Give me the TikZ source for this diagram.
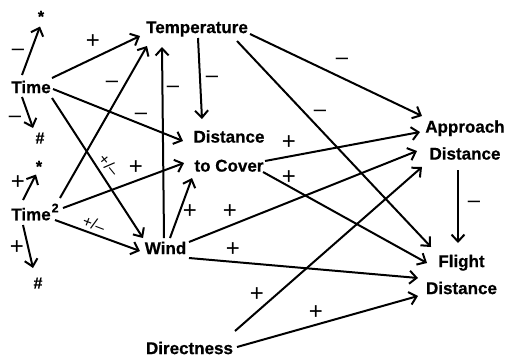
\documentclass[tikz,border=0pt]{standalone}
\usepackage{fontspec}
\setmainfont{Liberation Sans}[BoldFeatures={FakeBold=0.6}]
\usetikzlibrary{arrows.meta}
\begin{document}
\begin{tikzpicture}[x=1pt,y=-1pt,
  box/.style={font=\bfseries\fontsize{17}{27}\selectfont, inner sep=0pt, align=center},
  sym/.style={font=\bfseries\fontsize{16}{16}\selectfont, inner sep=0pt},
  lab/.style={font=\fontsize{24}{24}\selectfont, inner sep=0pt},
  mn/.style={font=\fontsize{22}{22}\selectfont, inner sep=0pt, yshift=-2.6pt},
  rlab/.style={font=\fontsize{16}{16}\selectfont, inner sep=0pt},
  arr/.style={line width=2pt, -{Straight Barb[length=7pt,width=13pt]}}
]
\fill[white] (0,0) rectangle (506,360);
\useasboundingbox (0,0) rectangle (506,360);

% nodes
\node[box] (time) at (31,87) {Time};
\node[box] (time2) at (31,212) {Time\rlap{\kern1pt\raisebox{8pt}{\fontsize{12.5}{12}\selectfont 2}}};
\node[sym, yshift=-3.5pt] (star1) at (41,13) {*};
\node[sym] (hash1) at (40,138) {\#};
\node[sym, yshift=-3.5pt] (star2) at (39,163) {*};
\node[sym] (hash2) at (38,283) {\#};
\node[box] (temp) at (197,29) {Temperature};
\node[box] (dist) at (229,151) {Distance\\[2pt]to Cover};
\node[box] (wind) at (165.5,248) {Wind};
\node[box] (appr) at (465,140) {Approach\\Distance};
\node[box] (flight) at (461.5,274.5) {Flight\\Distance};
\node[box] (dirn) at (189.5,348) {Directness};

% connectors
\draw[arr] ([shift={(-9,-12)}]time.center) -- ([shift={(-1,10)}]star1.center);
\draw[arr] ([shift={(-9,10)}]time.center) -- ([shift={(-7,-10)}]hash1.center);
\draw[arr] ([shift={(21,-9)}]time.center) -- ([shift={(-57,7)}]temp.center);
\draw[arr] ([shift={(22,2)}]time.center) -- ([shift={(-46,-10)}]dist.center);
\draw[arr] ([shift={(21,11)}]time.center) -- ([shift={(-22.5,-10)}]wind.center);
\draw[arr] ([shift={(-8,-12)}]time2.center) -- ([shift={(-3,8)}]star2.center);
\draw[arr] ([shift={(-8,13)}]time2.center) -- ([shift={(-5,-15)}]hash2.center);
\draw[arr] ([shift={(29,-14)}]time2.center) -- ([shift={(-50,17)}]temp.center);
\draw[arr] ([shift={(32,-4)}]time2.center) -- ([shift={(-45,12)}]dist.center);
\draw[arr] ([shift={(24,8)}]time2.center) -- ([shift={(-25.5,3)}]wind.center);
\draw[arr] ([shift={(-1.5,-10)}]wind.center) -- ([shift={(-35,18)}]temp.center);
\draw[arr] ([shift={(4.5,-10)}]wind.center) -- ([shift={(-37,27)}]dist.center);
\draw[arr] ([shift={(23.5,-6)}]wind.center) -- ([shift={(-48,11)}]appr.center);
\draw[arr] ([shift={(23.5,10)}]wind.center) -- ([shift={(-43.5,3.5)}]flight.center);
\draw[arr] ([shift={(53,5)}]temp.center) -- ([shift={(-43,-24)}]appr.center);
\draw[arr] ([shift={(40,12)}]temp.center) -- ([shift={(-30.5,-27.5)}]flight.center);
\draw[arr] ([shift={(1,9)}]temp.center) -- ([shift={(-27,-32)}]dist.center);
\draw[arr] ([shift={(36,10)}]dist.center) -- ([shift={(-45,-8)}]appr.center);
\draw[arr] ([shift={(34,21)}]dist.center) -- ([shift={(-34.5,-11.5)}]flight.center);
\draw[arr] ([shift={(45.5,-17)}]dirn.center) -- ([shift={(-43,27)}]appr.center);
\draw[arr] ([shift={(47.5,-1)}]dirn.center) -- ([shift={(-43.5,21.5)}]flight.center);
\draw[arr] ([shift={(-7,30)}]appr.center) -- ([shift={(-3.5,-31.5)}]flight.center);

% labels
\node[mn] (l1) at (18,50) {–};
\node[mn] (l2) at (15,117) {–};
\node[lab] (l3) at (93,42) {+};
\node[mn] (l4) at (141,114) {–};
\node[rlab, rotate=-51] (l5) at (109,165) {+/–};
\node[lab] (l6) at (18,183) {+};
\node[lab] (l7) at (17,248) {+};
\node[mn] (l8) at (112,82) {–};
\node[lab] (l9) at (136,168) {+};
\node[rlab, rotate=-21] (l10) at (94,224) {+/–};
\node[mn] (l11) at (173,87) {–};
\node[lab] (l12) at (190,212) {+};
\node[lab] (l13) at (230,212) {+};
\node[lab] (l14) at (233,250) {+};
\node[mn] (l15) at (342,59) {–};
\node[mn] (l16) at (320,111) {–};
\node[mn] (l17) at (212,77) {–};
\node[lab] (l18) at (289,143) {+};
\node[lab] (l19) at (289,178) {+};
\node[lab] (l20) at (257,295) {+};
\node[lab] (l21) at (316,313) {+};
\node[mn] (l22) at (474,202) {–};
\end{tikzpicture}
\end{document}
